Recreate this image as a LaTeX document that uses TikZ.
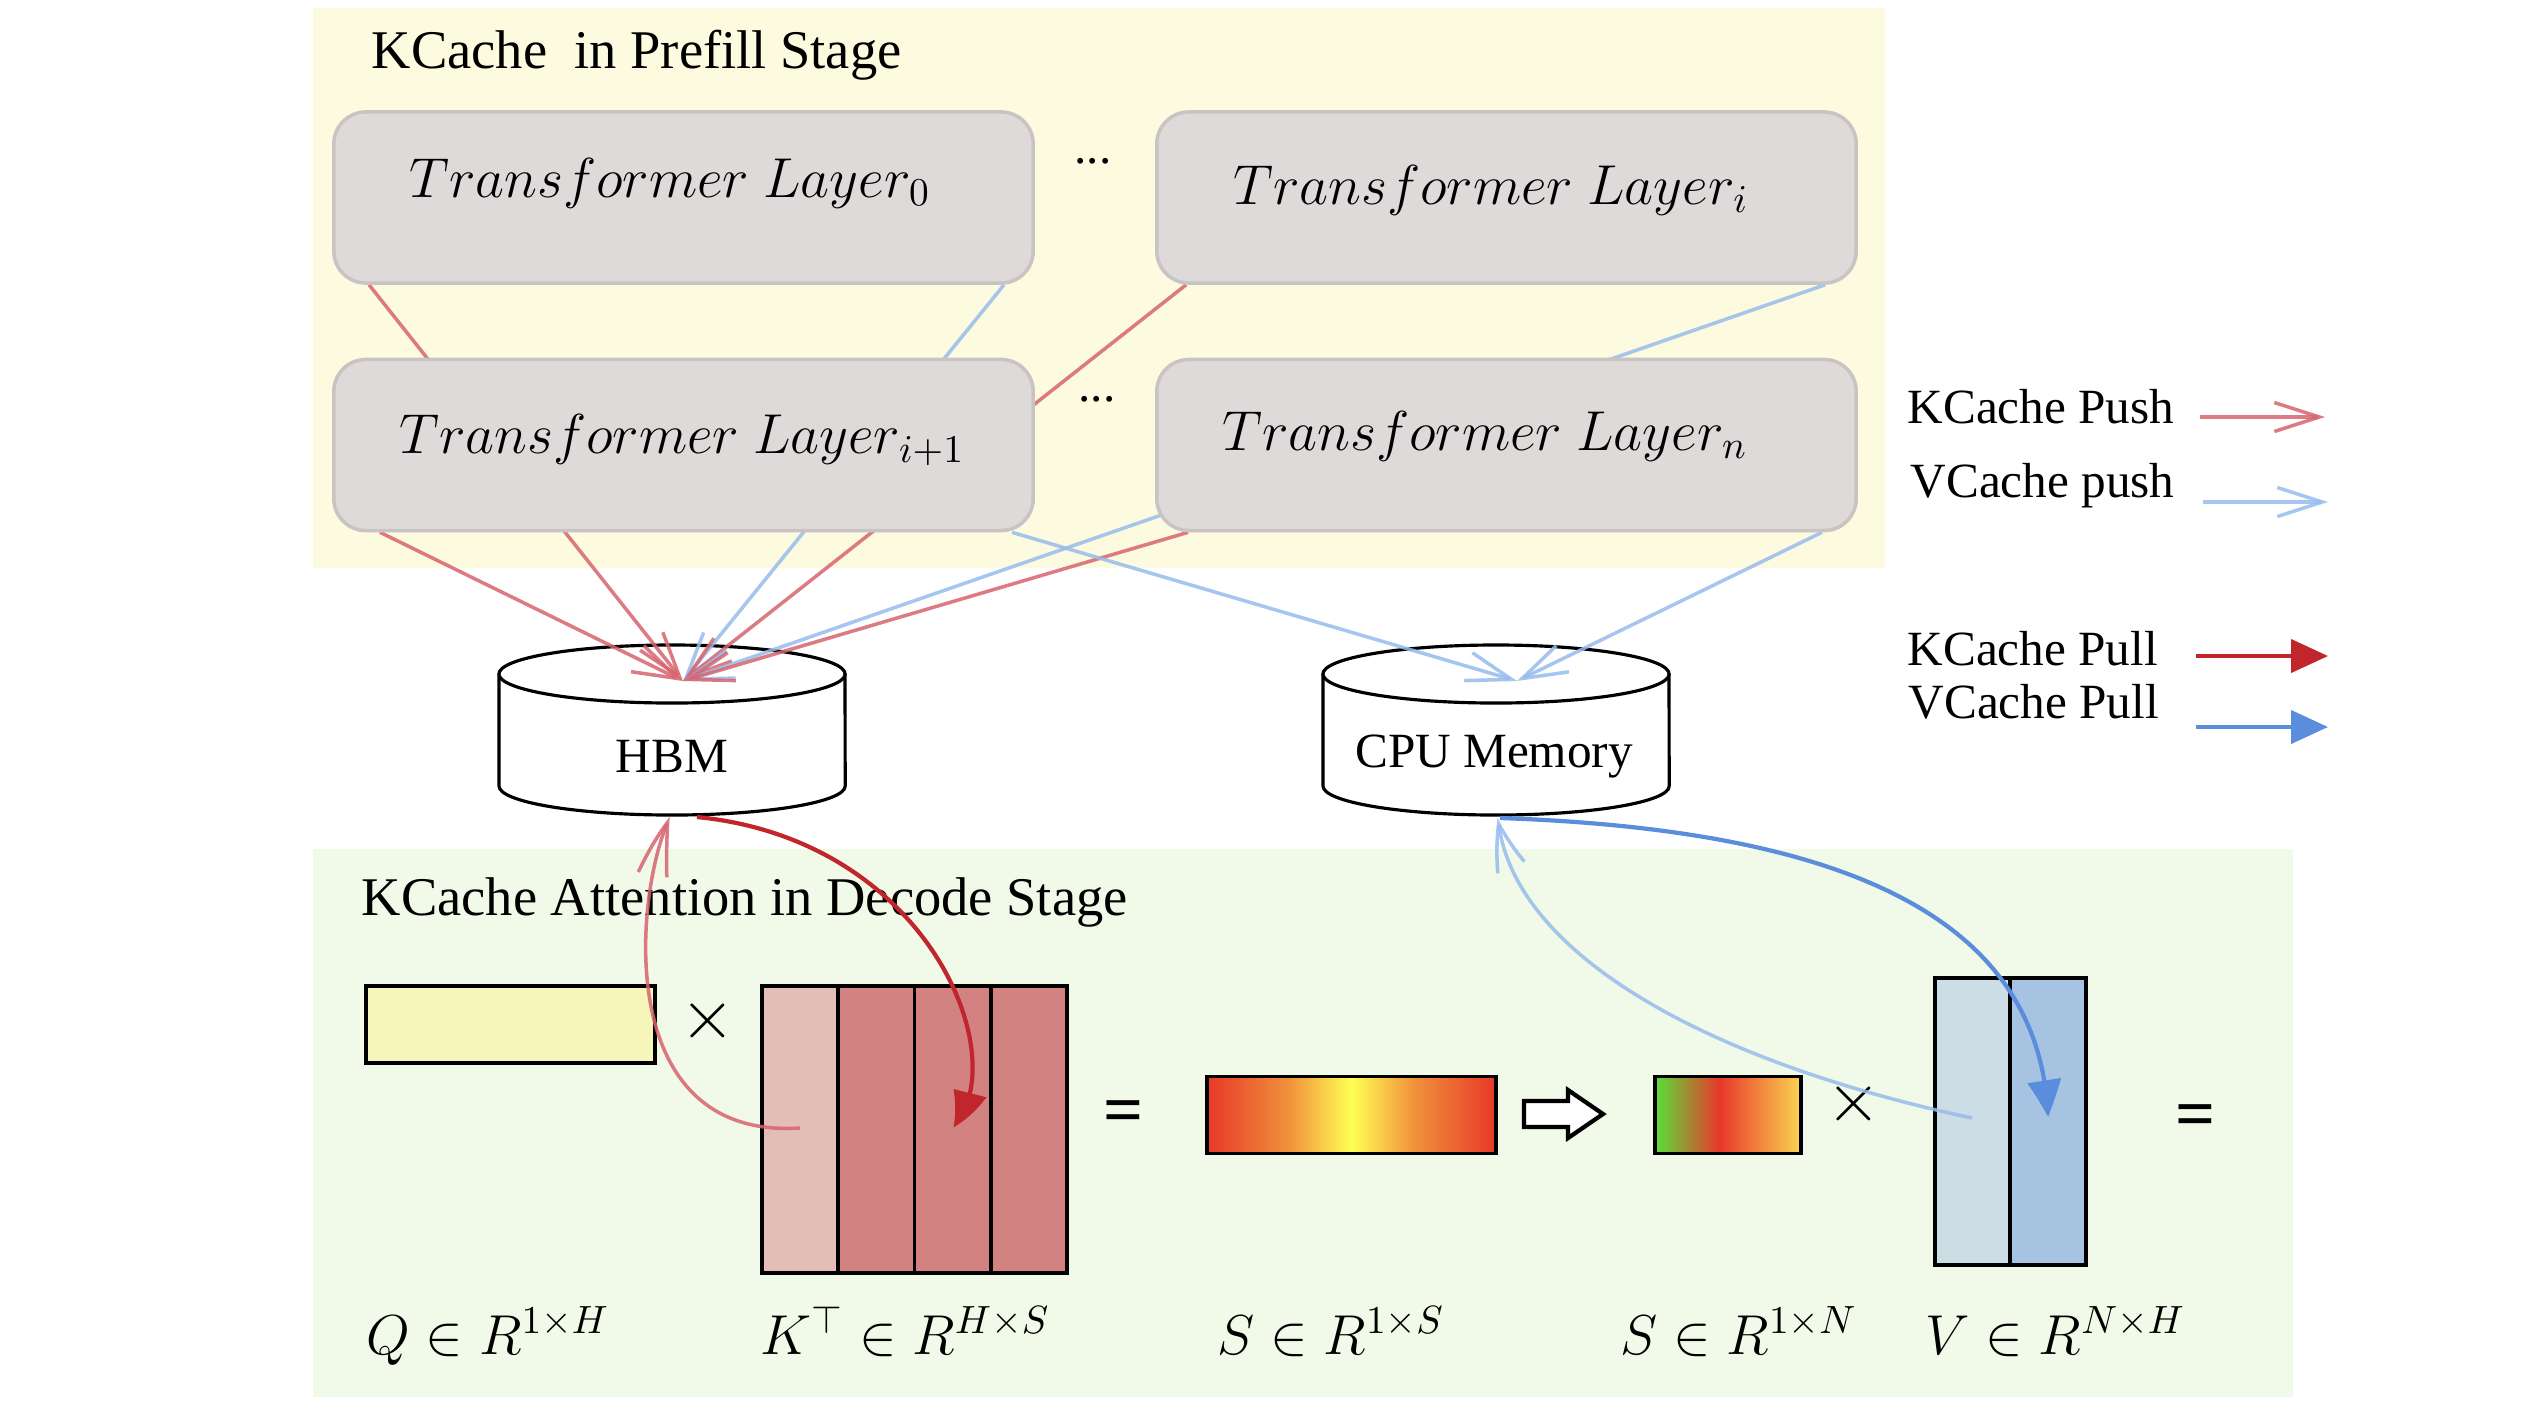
\RequirePackage{fix-cm}
\documentclass[tikz,border=0pt]{standalone}
\usepackage{amsmath,amssymb}
\usepackage{fontspec}
\setmainfont{Liberation Serif}
\usepackage{tikz}
\usetikzlibrary{calc}
\usetikzlibrary{arrows.meta, bending}

\definecolor{prefillbg}{HTML}{FCFADF}
\definecolor{decodebg}{HTML}{F1F9E8}
\definecolor{layerfill}{HTML}{DFDADA}
\definecolor{layerline}{HTML}{C9C3C3}
\definecolor{kpush}{HTML}{D7646E}
\definecolor{vpush}{HTML}{97BCEC}
\definecolor{kpull}{HTML}{C0262C}
\definecolor{vpull}{HTML}{5A8DDB}
\definecolor{qfill}{HTML}{F5F5BC}
\definecolor{klight}{HTML}{E3BDB6}
\definecolor{kdark}{HTML}{D38282}
\definecolor{vlight}{HTML}{CCDDE5}
\definecolor{vdark}{HTML}{A6C4E2}
\definecolor{sred}{HTML}{E8382A}
\definecolor{sorange}{HTML}{F0903A}
\definecolor{syellow}{HTML}{FFFF55}
\definecolor{sgreen}{HTML}{58E03A}
\definecolor{sgold}{HTML}{FBD452}

\pgfdeclarehorizontalshading{scorefull}{100bp}{color(0bp)=(sred); color(25bp)=(sred); color(39bp)=(sorange); color(50bp)=(syellow); color(61bp)=(sorange); color(75bp)=(sred); color(100bp)=(sred)}
\pgfdeclarehorizontalshading{scoretop}{100bp}{color(0bp)=(sgreen); color(25bp)=(sgreen); color(47bp)=(sred); color(75bp)=(sgold); color(100bp)=(sgold)}

\pgfdeclarelayer{back}
\pgfdeclarelayer{wires}
\pgfsetlayers{back,wires,main}

\tikzset{
  layer/.style={draw=layerline, fill=layerfill, line width=1pt, rounded corners=0.32cm,
    minimum width=6.99cm, minimum height=1.71cm},
  mathlbl/.style={font=\fontsize{16}{19}\selectfont, inner sep=0pt},
  stagetitle/.style={font=\fontsize{15.5}{18}\selectfont, anchor=base west, inner sep=0pt},
  legendtext/.style={anchor=base west, inner sep=0pt},
  drum/.style={draw, fill=white, line width=0.9pt},
  mat/.style={draw, line width=1pt, inner sep=0pt},
  op/.style={font=\fontsize{20}{24}\selectfont, inner sep=0pt},
  kpushline/.style={draw=kpush, draw opacity=0.85, line width=1pt,
    -{Straight Barb[length=0.45cm, width=0.29cm, bend]}},
  vpushline/.style={draw=vpush, draw opacity=0.85, line width=1pt,
    -{Straight Barb[length=0.45cm, width=0.29cm, bend]}},
  kpullline/.style={draw=kpull, line width=1.2pt, -{Triangle[length=0.37cm, width=0.33cm, bend]}},
  vpullline/.style={draw=vpull, line width=1.2pt, -{Triangle[length=0.37cm, width=0.33cm, bend]}},
}

\begin{document}
\begin{tikzpicture}[x=0.01cm, y=-0.01cm, every node/.style={font=\fontsize{14}{17}\selectfont}]
\useasboundingbox (0,0) rectangle (2530,1414);

% panels
\begin{pgfonlayer}{back}
    \fill[prefillbg] (313,8) rectangle (1885,568);
    \fill[decodebg] (313,849) rectangle (2293,1397);
\end{pgfonlayer}

% prefill stage
\node[stagetitle] (pretitle) at (371,68) {KCache~ in Prefill Stage};

\node[layer] (L0) at (683.5,197.5) {};
\node[layer] (Li) at (1506.5,197.5) {};
\node[layer] (Li1) at (683.5,445) {};
\node[layer] (Ln) at (1506.5,445) {};

\node[mathlbl] (tL0) at (670,183) {$Transformer\ Layer_{0}$};
\node[mathlbl] (tLi) at (1491,190) {$Transformer\ Layer_{i}$};
\node[mathlbl] (tLi1) at (682,440) {$Transformer\ Layer_{i+1}$};
\node[mathlbl] (tLn) at (1485,436) {$Transformer\ Layer_{n}$};

\node (dotsA) at (1093,161) {...};
\node (dotsB) at (1097,399) {...};

% memories
\node[anchor=base] (hbm) at (672,772) {HBM};
\node[anchor=base] (cpu) at (1494,767) {CPU Memory};

\begin{pgfonlayer}{back}
    \draw[drum] (499,674) -- (499,786) arc[start angle=180, end angle=360, x radius=1.73cm, y radius=0.29cm] -- (845,674);
    \draw[drum] (672,674) ellipse[x radius=1.73cm, y radius=0.29cm];
    \draw[drum] (1323,674) -- (1323,786) arc[start angle=180, end angle=360, x radius=1.73cm, y radius=0.29cm] -- (1669,674);
    \draw[drum] (1496,674) ellipse[x radius=1.73cm, y radius=0.29cm];
\end{pgfonlayer}

\coordinate (hbmIn) at (683,681);
\coordinate (cpuIn) at (1517,681);
\coordinate (hbmOut) at (697,817);
\coordinate (hbmBack) at (670,817);
\coordinate (cpuOut) at (1500,818);
\coordinate (cpuBack) at (1498,818);

% push to memory
\begin{pgfonlayer}{wires}
    \draw[kpushline] ($(L0.south west)+(37,0)$) -- (hbmIn);
    \draw[vpushline] ($(L0.south east)+(-31,0)$) -- (hbmIn);
    \draw[kpushline] ($(Li.south west)+(31,0)$) -- (hbmIn);
    \draw[vpushline] ($(Li.south east)+(-33,0)$) -- (hbmIn);
    \draw[kpushline] ($(Li1.south west)+(48,0)$) -- (hbmIn);
    \draw[kpushline] ($(Ln.south west)+(33,0)$) -- (hbmIn);
    \draw[vpushline] ($(Li1.south east)+(-23,0)$) -- (cpuIn);
    \draw[vpushline] ($(Ln.south east)+(-36,0)$) -- (cpuIn);
\end{pgfonlayer}

% legend
\node[legendtext] (lgKpush) at (1907,423) {KCache Push};
\node[legendtext] (lgVpush) at (1910,497) {VCache push};
\node[legendtext] (lgKpull) at (1907,665) {KCache Pull};
\node[legendtext] (lgVpull) at (1908,718) {VCache Pull};
\coordinate (kpushA) at (2200,417);
\coordinate (kpushB) at (2325,417);
\coordinate (vpushA) at (2203,502);
\coordinate (vpushB) at (2328,502);
\coordinate (kpullA) at (2196,656);
\coordinate (kpullB) at (2328,656);
\coordinate (vpullA) at (2196,727);
\coordinate (vpullB) at (2328,727);
\draw[kpushline] (kpushA) -- (kpushB);
\draw[vpushline] (vpushA) -- (vpushB);
\draw[kpullline] (kpullA) -- (kpullB);
\draw[vpullline] (vpullA) -- (vpullB);

% decode stage
\node[stagetitle] (dectitle) at (361,915) {KCache Attention in Decode Stage};

\node[mat, fill=qfill, minimum width=2.89cm, minimum height=0.77cm] (Q) at (510.5,1024.5) {};
\node[op] (mulA) at (708,1021) {$\times$};

\node[mat, fill=klight, minimum width=0.7625cm, minimum height=2.87cm] (K1) at (800.1,1129.5) {};
\node[mat, fill=kdark, minimum width=0.7625cm, minimum height=2.87cm] (K2) at (876.4,1129.5) {};
\node[mat, fill=kdark, minimum width=0.7625cm, minimum height=2.87cm] (K3) at (952.6,1129.5) {};
\node[mat, fill=kdark, minimum width=0.7625cm, minimum height=2.87cm] (K4) at (1028.9,1129.5) {};

\node[op] (eqA) at (1124,1117) {\textbf{=}};

\node[mat, shade, shading=scorefull, minimum width=2.89cm, minimum height=0.77cm] (Sfull) at (1351.5,1115) {};
\draw[line width=1.2pt, fill=white] (1524,1101) -- (1568,1101) -- (1568,1090) -- (1603,1114)
    -- (1568,1138) -- (1568,1127) -- (1524,1127) -- cycle;
\node[mat, shade, shading=scoretop, minimum width=1.46cm, minimum height=0.77cm] (Stop) at (1728,1115) {};
\node[op] (mulB) at (1854,1104) {$\times$};

\node[mat, fill=vlight, minimum width=0.755cm, minimum height=2.87cm] (V1) at (1972.5,1121.5) {};
\node[mat, fill=vdark, minimum width=0.76cm, minimum height=2.87cm] (V2) at (2048,1121.5) {};

\node[op] (eqB) at (2196,1121) {\textbf{=}};

\node[mathlbl, anchor=base west] (lQ) at (366,1354) {$Q\in R^{1\times H}$};
\node[mathlbl, anchor=base west] (lK) at (760,1354) {$K^{\top}\in R^{H\times S}$};
\node[mathlbl, anchor=base west] (lS) at (1217,1354) {$S\in R^{1\times S}$};
\node[mathlbl, anchor=base west] (lStop) at (1620,1354) {$S\in R^{1\times N}$};
\node[mathlbl, anchor=base west] (lV) at (1925,1354) {$V\in R^{N\times H}$};

% pull and push between memory and matrices
\coordinate (kcolIn) at (953,1127);
\coordinate (kcolOut) at (800,1128);
\coordinate (vcolIn) at (2048,1117);
\coordinate (vcolOut) at (1972,1118);
\draw[kpushline] (kcolOut) .. controls (610,1140) and (635,890) .. (hbmBack);
\draw[kpullline] (hbmOut) .. controls (930,840) and (1015,1060) .. (kcolIn);
\draw[vpushline] (vcolOut) .. controls (1700,1060) and (1510,950) .. (cpuBack);
\draw[vpullline] (cpuOut) .. controls (1850,830) and (2040,920) .. (vcolIn);
\end{tikzpicture}
\end{document}
